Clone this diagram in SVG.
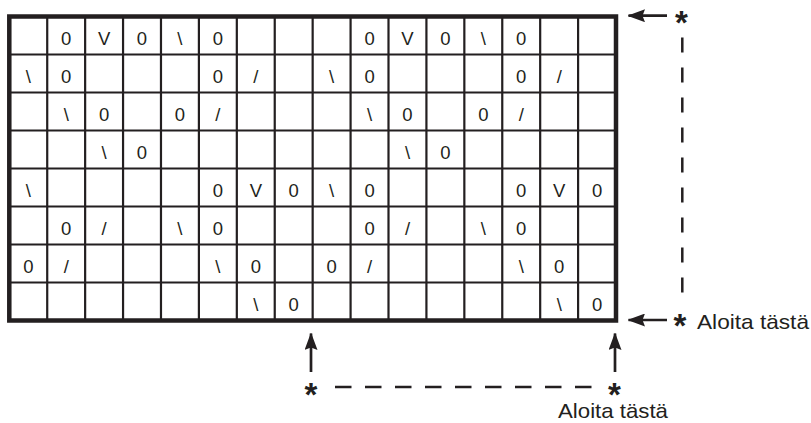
<svg xmlns="http://www.w3.org/2000/svg" width="811" height="423" viewBox="0 0 811 423">
<style>
.cell{font-family:"Liberation Sans",Arial,sans-serif;font-size:18.5px;fill:#231f20;text-anchor:middle}
.lbl{font-family:"Liberation Sans",Arial,sans-serif;font-size:21px;fill:#231f20}
.ast{font-family:"Liberation Sans",Arial,sans-serif;font-size:33px;font-weight:bold;fill:#231f20;text-anchor:middle}
.grid{stroke:#231f20;stroke-width:2.2;fill:none}
.border{stroke:#231f20;stroke-width:4.5;fill:none}
.arr{stroke:#231f20;stroke-width:2.7;fill:none}
.dash{stroke:#231f20;stroke-width:2.5;fill:none}
</style>
<defs>
<marker id="ah" markerUnits="userSpaceOnUse" markerWidth="18" markerHeight="13" refX="17" refY="6.5" orient="auto" viewBox="0 0 18 13">
<path d="M18,6.5 L0.5,0 L3,6.5 L0.5,13 Z" fill="#231f20"/>
</marker>
</defs>
<rect width="811" height="423" fill="#ffffff"/>
<g id="chart">
<g id="grid-lines" class="grid">
<path d="M47.22,16.5V320.5M85.14,16.5V320.5M123.06,16.5V320.5M160.98,16.5V320.5M198.9,16.5V320.5M236.82,16.5V320.5M274.74,16.5V320.5M312.66,16.5V320.5M350.58,16.5V320.5M388.5,16.5V320.5M426.42,16.5V320.5M464.34,16.5V320.5M502.26,16.5V320.5M540.18,16.5V320.5M578.1,16.5V320.5"/>
<path d="M9.3,54.5H616M9.3,92.5H616M9.3,130.5H616M9.3,168.5H616M9.3,206.5H616M9.3,244.5H616M9.3,282.5H616"/>
</g>
<rect id="chart-border" class="border" x="9.3" y="16.5" width="606.7" height="304"/>
<g id="row1" class="cell">
<text x="66.2" y="44.8">0</text><text x="104.1" y="44.8">V</text><text x="142" y="44.8">0</text><text x="179.9" y="44.8">\</text><text x="217.9" y="44.8">0</text>
<text x="369.6" y="44.8">0</text><text x="407.5" y="44.8">V</text><text x="445.4" y="44.8">0</text><text x="483.3" y="44.8">\</text><text x="521.2" y="44.8">0</text>
</g>
<g id="row2" class="cell">
<text x="28.3" y="82.8">\</text><text x="66.2" y="82.8">0</text><text x="217.9" y="82.8">0</text><text x="255.8" y="82.8">/</text>
<text x="331.6" y="82.8">\</text><text x="369.6" y="82.8">0</text><text x="521.2" y="82.8">0</text><text x="559.2" y="82.8">/</text>
</g>
<g id="row3" class="cell">
<text x="66.2" y="120.8">\</text><text x="104.1" y="120.8">0</text><text x="179.9" y="120.8">0</text><text x="217.9" y="120.8">/</text>
<text x="369.6" y="120.8">\</text><text x="407.5" y="120.8">0</text><text x="483.3" y="120.8">0</text><text x="521.2" y="120.8">/</text>
</g>
<g id="row4" class="cell">
<text x="104.1" y="158.8">\</text><text x="142" y="158.8">0</text>
<text x="407.5" y="158.8">\</text><text x="445.4" y="158.8">0</text>
</g>
<g id="row5" class="cell">
<text x="28.3" y="196.8">\</text>
<text x="217.9" y="196.8">0</text><text x="255.8" y="196.8">V</text><text x="293.7" y="196.8">0</text><text x="331.6" y="196.8">\</text><text x="369.6" y="196.8">0</text>
<text x="521.2" y="196.8">0</text><text x="559.2" y="196.8">V</text><text x="597.1" y="196.8">0</text>
</g>
<g id="row6" class="cell">
<text x="66.2" y="234.8">0</text><text x="104.1" y="234.8">/</text><text x="179.9" y="234.8">\</text><text x="217.9" y="234.8">0</text>
<text x="369.6" y="234.8">0</text><text x="407.5" y="234.8">/</text><text x="483.3" y="234.8">\</text><text x="521.2" y="234.8">0</text>
</g>
<g id="row7" class="cell">
<text x="28.3" y="272.8">0</text><text x="66.2" y="272.8">/</text><text x="217.9" y="272.8">\</text><text x="255.8" y="272.8">0</text>
<text x="331.6" y="272.8">0</text><text x="369.6" y="272.8">/</text><text x="521.2" y="272.8">\</text><text x="559.2" y="272.8">0</text>
</g>
<g id="row8" class="cell">
<text x="255.8" y="310.8">\</text><text x="293.7" y="310.8">0</text>
<text x="559.2" y="310.8">\</text><text x="597.1" y="310.8">0</text>
</g>
</g>
<g id="star-top"><text class="ast" x="681.5" y="33.5">*</text></g>
<g id="star-right"><text class="ast" x="680" y="336.5">*</text><text class="lbl" x="697" y="328.5" textLength="112" lengthAdjust="spacingAndGlyphs">Aloita tästä</text></g>
<g id="star-bottom-left"><text class="ast" x="311" y="405.5">*</text></g>
<g id="star-bottom-right"><text class="ast" x="614.5" y="405.5">*</text></g>
<g id="label-bottom"><text class="lbl" x="558" y="417.5" textLength="110" lengthAdjust="spacingAndGlyphs">Aloita tästä</text></g>
<g id="connectors">
<line class="arr" x1="667" y1="15.7" x2="628.5" y2="15.7" marker-end="url(#ah)"/>
<line class="arr" x1="667" y1="320" x2="628.5" y2="320" marker-end="url(#ah)"/>
<line class="arr" x1="311" y1="372" x2="311" y2="333.5" marker-end="url(#ah)"/>
<line class="arr" x1="615" y1="372" x2="615" y2="333.5" marker-end="url(#ah)"/>
<line class="dash" x1="682.3" y1="37.5" x2="682.3" y2="295" stroke-dasharray="15 15"/>
<line class="dash" x1="335" y1="387" x2="592" y2="387" stroke-dasharray="16.5 13.5"/>
</g>
</svg>
